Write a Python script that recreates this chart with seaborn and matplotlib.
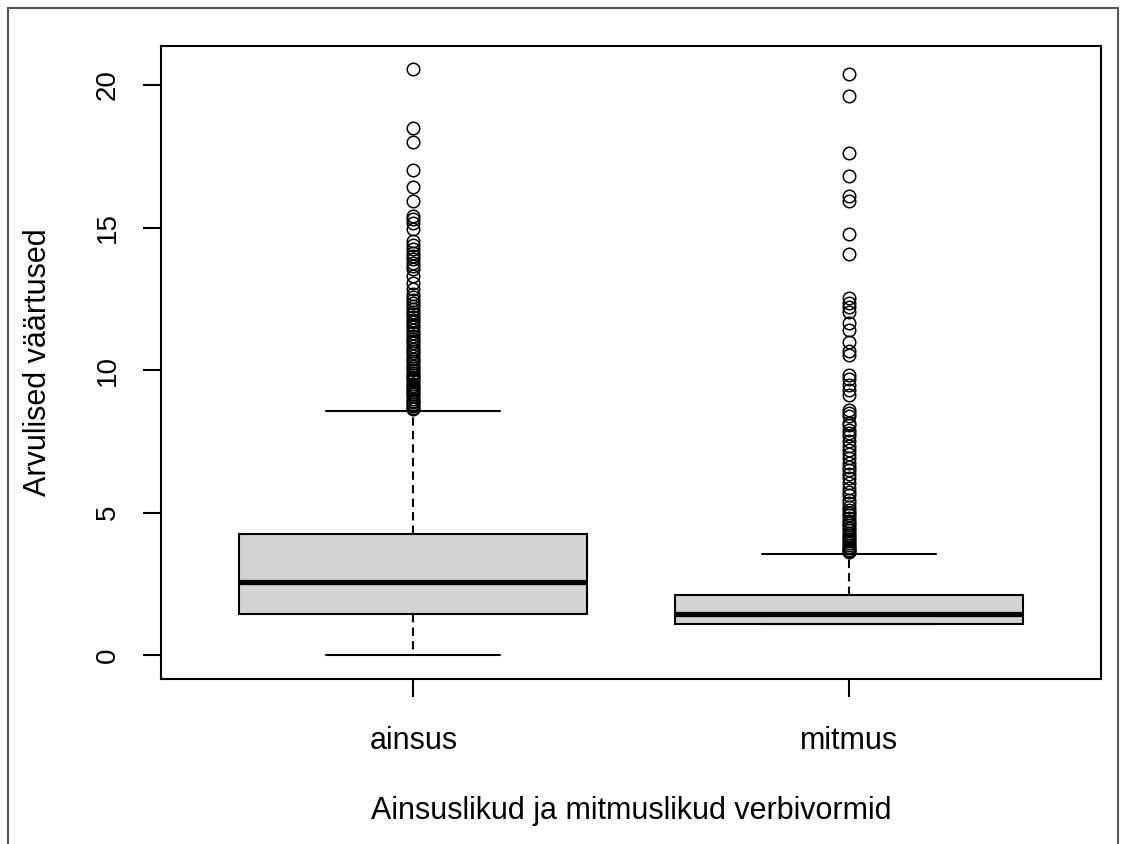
import numpy as np
import pandas as pd
import matplotlib
matplotlib.use("Agg")
import matplotlib.pyplot as plt
import seaborn as sns

# group names on the x axis
groups = ["ainsus", "mitmus"]

# five-number summary per group (min whisker, Q1, median, Q3, max whisker)
# with how many observations sit at each level
ainsus_levels = [0.0, 1.43, 2.58, 4.24, 8.57]
ainsus_counts = [1, 200, 200, 200, 1]
mitmus_levels = [1.08, 1.08, 1.43, 2.11, 3.55]
mitmus_counts = [1, 200, 200, 200, 1]

# outliers
ainsus_outliers = [
    8.62, 8.68, 8.75, 8.80, 8.87, 8.93, 9.00, 9.08, 9.15, 9.22, 9.30, 9.38,
    9.45, 9.52, 9.60, 9.67, 9.75, 9.83, 9.90, 10.00, 10.08, 10.15, 10.25,
    10.33, 10.40, 10.50, 10.60, 10.68, 10.75, 10.85, 10.95, 11.03, 11.10,
    11.20, 11.30, 11.40, 11.50, 11.58, 11.67, 11.75, 11.85, 11.95, 12.05,
    12.15, 12.25, 12.35, 12.45, 12.55, 12.67, 12.83, 13.06, 13.30, 13.53,
    13.65, 13.77, 13.90, 14.00, 14.12, 14.24, 14.40, 14.53, 14.94, 15.17,
    15.30, 15.41, 15.93, 16.44, 17.02, 18.01, 18.48, 20.58,
]
mitmus_outliers = [
    3.60, 3.65, 3.70, 3.75, 3.80, 3.85, 3.92, 4.00, 4.08, 4.15, 4.22, 4.30,
    4.38, 4.45, 4.55, 4.64, 4.72, 4.80, 4.90, 4.99, 5.10, 5.20, 5.34, 5.45,
    5.60, 5.73, 5.87, 6.05, 6.20, 6.35, 6.50, 6.60, 6.75, 6.90, 7.05, 7.20,
    7.32, 7.50, 7.67, 7.80, 7.91, 8.08, 8.15, 8.38, 8.50, 8.61, 9.14, 9.31,
    9.49, 9.67, 9.84, 10.54, 10.66, 10.97, 11.42, 11.66, 12.02, 12.20,
    12.36, 12.54, 14.06, 14.76, 15.93, 16.11, 16.81, 17.63, 19.62, 20.39,
]

# whisker reach (in IQRs) per group so the whisker ends land where R put them
whis_values = [1.55, 1.42]

ainsus = np.concatenate([np.repeat(ainsus_levels, ainsus_counts), ainsus_outliers])
mitmus = np.concatenate([np.repeat(mitmus_levels, mitmus_counts), mitmus_outliers])
df = pd.DataFrame({
    "vorm": ["ainsus"] * len(ainsus) + ["mitmus"] * len(mitmus),
    "vaartus": np.concatenate([ainsus, mitmus]),
})

sns.set_style("ticks")
plt.rcParams["font.family"] = ["Liberation Sans", "DejaVu Sans"]
plt.rcParams["text.color"] = "black"
plt.rcParams["axes.labelcolor"] = "black"

fig = plt.figure(figsize=(11.26, 8.44), dpi=100)
ax = fig.add_axes([161 / 1126, 1 - 679 / 844, 940 / 1126, 633 / 844])

for grp, w in zip(groups, whis_values):
    sns.boxplot(
        data=df[df["vorm"] == grp], x="vorm", y="vaartus", order=groups,
        whis=w, width=0.8, color="#D3D3D3", saturation=1,
        linecolor="black", linewidth=1.5,
        medianprops=dict(linewidth=3.8, color="black"),
        whiskerprops=dict(linestyle=(0, (4, 2.5))),
        flierprops=dict(marker="o", markersize=9, markerfacecolor="none",
                        markeredgecolor="black", markeredgewidth=1.1),
        ax=ax,
    )

ax.set_xlim(-0.58, 1.58)
ax.set_ylim(-0.84, 21.37)
ax.set_yticks([0, 5, 10, 15, 20])
for s in ax.spines.values():
    s.set_visible(True)
    s.set_linewidth(1.5)
    s.set_color("black")
ax.tick_params(axis="both", direction="out", length=13, width=1.5, colors="black")
ax.tick_params(axis="x", pad=21, labelsize=22)
ax.tick_params(axis="y", pad=16, labelsize=20)
plt.setp(ax.get_yticklabels(), rotation=90, va="center")

ax.set_xlabel("Ainsuslikud ja mitmuslikud verbivormid", fontsize=22, labelpad=29)
ax.set_ylabel("Arvulised väärtused", fontsize=22, labelpad=30)

# thin frame round the whole picture, as in the screenshot
fig.patches.append(plt.Rectangle((8 / 1126, -0.05), 1110 / 1126, 1 - 8 / 844 + 0.05,
                                 transform=fig.transFigure, fill=False,
                                 edgecolor="#555555", linewidth=1.5))

fig.savefig("out.png", dpi=100)
